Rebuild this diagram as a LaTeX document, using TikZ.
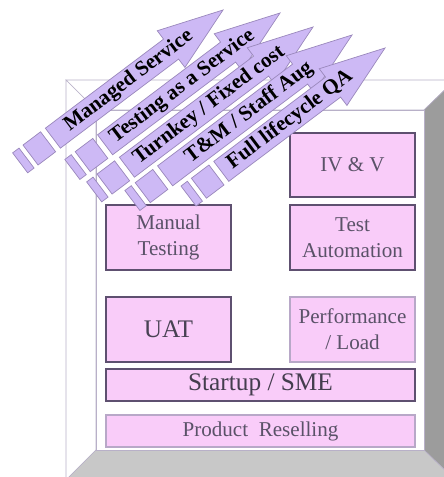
\documentclass[tikz,border=0pt]{standalone}
\usepackage{fontspec}
\setmainfont{Liberation Serif}
\newfontfamily\timesface{Liberation Serif}
\usetikzlibrary{positioning}

\definecolor{boxpink}{HTML}{F9CCF9}
\definecolor{boxline}{HTML}{5E5070}
\definecolor{boxlight}{HTML}{B8A8C8}
\definecolor{boxtext}{HTML}{5A5268}
\definecolor{arrowfill}{HTML}{CDB9F5}
\definecolor{arrowline}{HTML}{9A88BC}
\definecolor{frameline}{HTML}{B8B0C8}
\definecolor{sidegray}{HTML}{9C9C9C}
\definecolor{floorgray}{HTML}{C8C8C8}

\tikzset{
	offering/.style={draw=boxline,line width=1.2pt,fill=boxpink,text=boxtext,align=center,inner sep=0pt,
		minimum width=3.125cm,minimum height=1.625cm,font=\timesface\fontsize{15}{18.5}\selectfont},
	wide/.style={offering,minimum width=7.725cm,minimum height=0.8cm},
	striped/.style={fill=arrowfill,draw=arrowline,line width=0.5pt},
	model/.style={font=\timesface\fontsize{15}{15}\selectfont\bfseries,rotate=37,inner sep=0pt},
}

\begin{document}
\begin{tikzpicture}[x=0.025cm,y=0.025cm]
	\useasboundingbox (0,0) rectangle (444,477);
	\draw[frameline,fill=white] (66,397) -- (455,397) -- (424,367) -- (96,367) -- cycle;
	\draw[frameline,fill=white] (66,397) -- (96,367) -- (96,27) -- (66,-3) -- cycle;
	\draw[frameline,fill=sidegray] (455,397) -- (424,367) -- (424,27) -- (455,-3) -- cycle;
	\draw[frameline,fill=floorgray] (66,-3) -- (96,27) -- (424,27) -- (455,-3) -- cycle;
	\draw[frameline,fill=white] (96,27) rectangle (424,367);

	\node[offering,minimum height=1.6cm] (ivv) at (352.5,312) {IV \& V};
	\node[offering] (manual) at (168.5,239.5) {Manual\\Testing};
	\node[offering] (auto) at (352.5,239.5) {Test\\Automation};
	\node[offering,font=\timesface\fontsize{18}{18}\selectfont,text=boxtext!80!black] (uat) at (168.5,147.5) {UAT};
	\node[offering,draw=boxlight] (perf) at (352.5,147.5) {Performance\\/ Load};
	\node[wide,font=\timesface\fontsize{18}{18}\selectfont,text=boxtext!75!black] (sme) at (260.5,92) {Startup / SME};
	\node[wide,draw=boxlight] (resell) at (260.5,46) {Product~~Reselling};

	\foreach \tx/\ty/\len/\tp/\lab [count=\n] in {223/467/254/-118/{Managed Service},
		280/464/260/-122/{Testing as a Service},313/450/274/-130/{Turnkey / Fixed cost},
		352/442/275/-129/{T\&M / Staff Aug},385/429/246/-119/{Full lifecycle QA}}
	{
		\begin{scope}[shift={(\tx,\ty)},rotate=37]
			\draw[striped] (-\len,-12.5) rectangle ++(8,25);
			\draw[striped] (-\len+13,-12.5) rectangle ++(22,25);
			\draw[striped] (-\len+41,-12.5) -- (-65,-12.5) -- (-65,-23) -- (0,0) -- (-65,23) -- (-65,12.5) -- (-\len+41,12.5) -- cycle;
			\node[model] (model\n) at (\tp,0) {\lab};
		\end{scope}
	}
\end{tikzpicture}
\end{document}
